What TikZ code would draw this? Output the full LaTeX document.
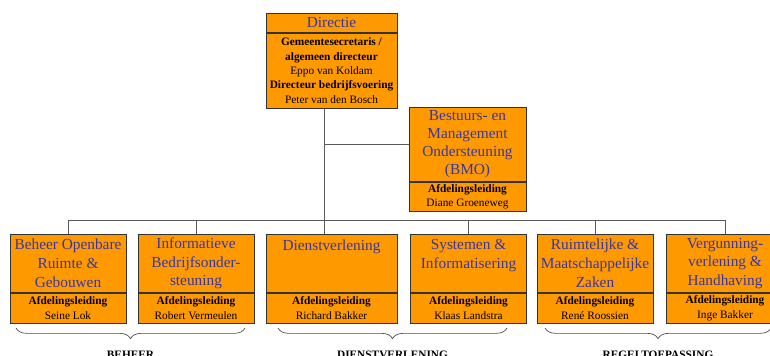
\documentclass[tikz,border=0pt]{standalone}
\usepackage{fontspec}
\setmainfont{Liberation Serif}
\usepackage{tikz}
\usetikzlibrary{positioning,decorations.pathreplacing}
\usepackage{xcolor}

\definecolor{orgorange}{HTML}{FF9900}
\definecolor{orgblue}{HTML}{3636A6}

\begin{document}
\begin{tikzpicture}[x=0.75pt, y=-0.75pt,
    box/.style={draw=black!80, fill=orgorange, line width=0.6pt, inner sep=1pt, align=center, anchor=north},
    titlebox/.style={box, text=orgblue, font=\fontsize{11.5}{14}\selectfont},
    infobox/.style={box, font=\fontsize{8.5}{10.75}\selectfont},
    link/.style={draw=black!65, line width=0.75pt},
    group/.style={draw=black!70, line width=0.5pt, decorate, decoration={brace, amplitude=8pt, mirror}},
    grouplabel/.style={font=\fontsize{8.5}{10}\selectfont\bfseries}]

    % Page frame
    \path[use as bounding box, fill=white] (0,0) rectangle (770,356);

    % Directie
    \node[titlebox, minimum width=98.25pt, minimum height=14.25pt] (dir-t) at (331.5, 13) {Directie};
    \node[infobox, minimum width=98.25pt, minimum height=56.25pt] (dir-b) at (dir-t.south)
        {\textbf{Gemeentesecretaris /}\\\textbf{algemeen directeur}\\Eppo van Koldam\\\textbf{Directeur bedrijfsvoering}\\Peter van den Bosch};

    % Staff unit
    \node[titlebox, font=\fontsize{11.5}{13.5}\selectfont, minimum width=87.75pt, minimum height=55.5pt] (bmo-t) at (467.5, 107)
        {Bestuurs- en\\Management\\Ondersteuning\\(BMO)};
    \node[infobox, minimum width=87.75pt, minimum height=21.75pt] (bmo-b) at (bmo-t.south)
        {\textbf{Afdelingsleiding}\\Diane Groeneweg};

    % Departments
    \foreach \nm/\cx/\w/\ttl/\lead in {%
        bor/68/87pt/{Beheer Openbare\\Ruimte \&\\Gebouwen}/{Seine Lok},%
        ibo/196/87pt/{Informatieve\\Bedrijfsonder-\\steuning}/{Robert Vermeulen},%
        dst/331.5/98.25pt/{Dienstverlening\\~\\~}/{Richard Bakker},%
        sys/468.5/87pt/{Systemen \&\\Informatisering\\~}/{Klaas Landstra},%
        rmz/595/87pt/{Ruimtelijke \&\\Maatschappelijke\\Zaken}/{René Roossien},%
        vgh/725/87.75pt/{Vergunning-\\verlening \&\\Handhaving}/{Inge Bakker}%
    } {
        \node[titlebox, minimum width=\w, minimum height=43.5pt] (\nm-t) at (\cx, 234) {\ttl};
        \node[infobox, minimum width=\w, minimum height=22.5pt] (\nm-b) at (\nm-t.south)
            {\textbf{Afdelingsleiding}\\\lead};
    }

    % Lines
    \coordinate (spine) at (324, 220);
    \draw[link] (spine |- dir-b.south) -- (spine |- dst-t.north);
    \draw[link] (spine |- bmo-t.west) -- (bmo-t.west);
    \draw[link] (bor-t.north |- spine) -- (vgh-t.north |- spine);
    \foreach \nm in {bor,ibo,sys,rmz,vgh}
        \draw[link] (\nm-t.north |- spine) -- (\nm-t.north);

    % Clusters
    \draw[group] (16, 328) -- (245, 328) node[grouplabel, midway, below=14pt] {BEHEER};
    \draw[group] (278, 328) -- (507, 328) node[grouplabel, midway, below=14pt] {DIENSTVERLENING};
    \draw[group] (545, 328) -- (771, 328) node[grouplabel, midway, below=14pt] {REGELTOEPASSING};
\end{tikzpicture}
\end{document}
